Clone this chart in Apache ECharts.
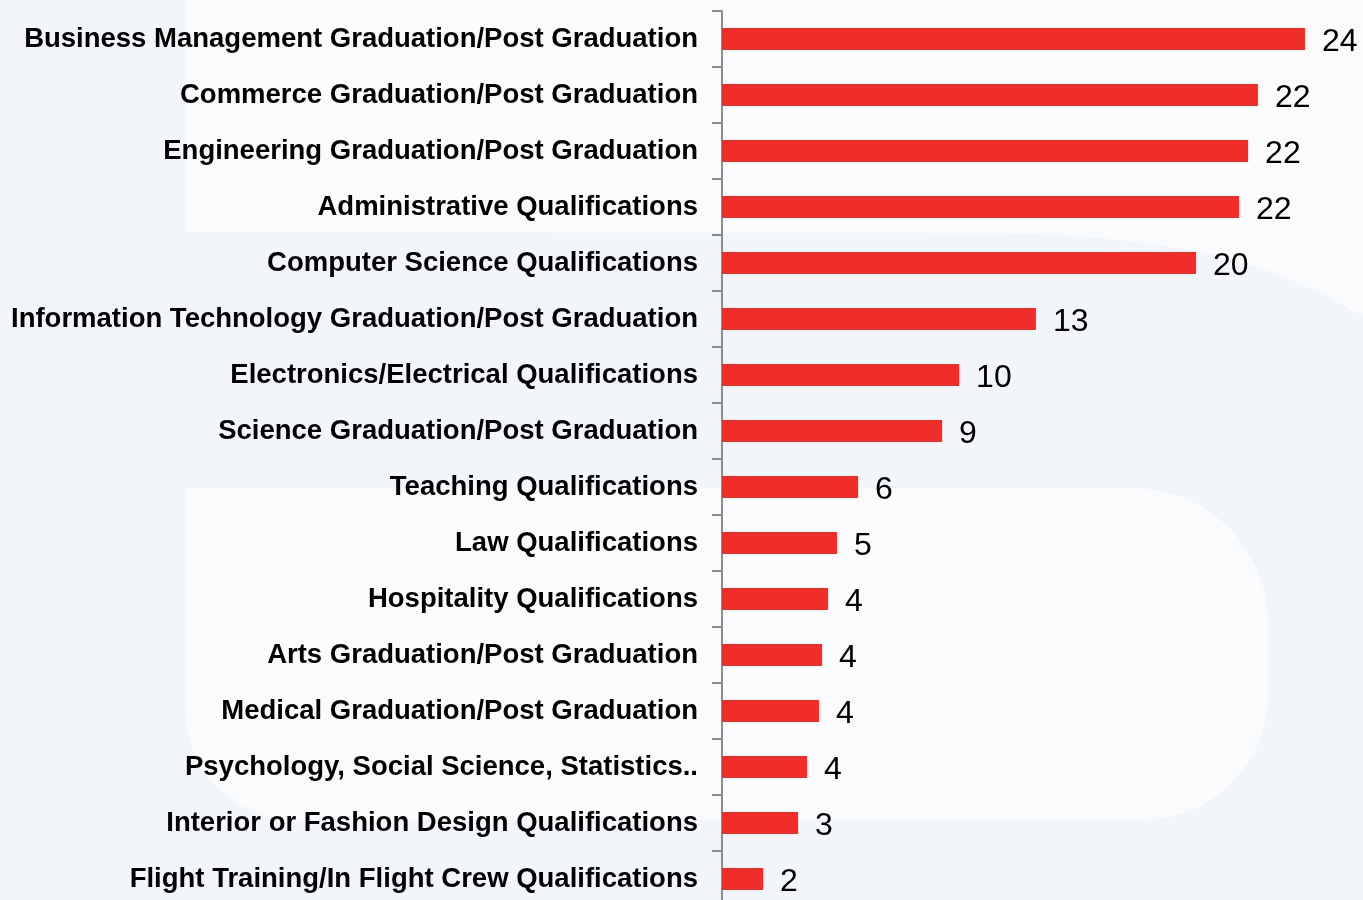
<!DOCTYPE html>
<html>
<head>
<meta charset="utf-8">
<script src="https://cdn.jsdelivr.net/npm/echarts@6/dist/echarts.min.js"></script>
<style>
  html, body { margin: 0; padding: 0; }
  #chart { width: 1363px; height: 900px; }
</style>
</head>
<body>
<div id="chart"></div>
<script>
// 分类（从上到下）
const categories = [
  'Business Management Graduation/Post Graduation',
  'Commerce Graduation/Post Graduation',
  'Engineering Graduation/Post Graduation',
  'Administrative Qualifications',
  'Computer Science Qualifications',
  'Information Technology Graduation/Post Graduation',
  'Electronics/Electrical Qualifications',
  'Science Graduation/Post Graduation',
  'Teaching Qualifications',
  'Law Qualifications',
  'Hospitality Qualifications',
  'Arts Graduation/Post Graduation',
  'Medical Graduation/Post Graduation',
  'Psychology, Social Science, Statistics..',
  'Interior or Fashion Design Qualifications',
  'Flight Training/In Flight Crew Qualifications'
];

// 条形长度（按图估计，标签显示取整）
const values = [24.29, 22.33, 21.92, 21.54, 19.75, 13.08, 9.88, 9.17, 5.67, 4.79, 4.42, 4.17, 4.04, 3.54, 3.17, 1.71];

const chart = echarts.init(document.getElementById('chart'));

chart.setOption({
  backgroundColor: '#F2F5FA',
  animation: false,
  // 背景浅色图形（logo 水印）
  graphic: [
    {
      type: 'polygon',
      z: -10,
      silent: true,
      shape: {
        points: [[185, 0], [1363, 0], [1363, 316], [1320, 293], [1280, 275], [1240, 262],
                 [1200, 252], [1150, 244], [1100, 238], [1050, 235], [1000, 233], [185, 232]]
      },
      style: { fill: '#FAFBFD' }
    },
    {
      type: 'rect',
      z: -10,
      silent: true,
      shape: { x: 185, y: 488, width: 1083, height: 332, r: [0, 135, 125, 110] },
      style: { fill: '#FAFBFD' }
    }
  ],
  grid: { left: 722, top: 11, width: 624, height: 896, containLabel: false, outerBoundsMode: 'none' },
  xAxis: {
    type: 'value',
    min: 0,
    max: 26,
    show: false
  },
  yAxis: {
    type: 'category',
    data: categories,
    inverse: true,
    axisLine: { show: true, lineStyle: { color: '#8C8C8C', width: 2 } },
    axisTick: { show: true, length: 10, lineStyle: { color: '#8C8C8C', width: 2 } },
    axisLabel: {
      margin: 24,
      color: '#000',
      fontFamily: 'Liberation Sans, Arial, sans-serif',
      fontWeight: 'bold',
      fontSize: 27.5,
      lineHeight: 28,
      padding: [6, 0, 0, 0]
    },
    splitLine: { show: false }
  },
  series: [{
    type: 'bar',
    data: values,
    barWidth: 22,
    itemStyle: { color: '#EF2E29' },
    label: {
      show: true,
      position: 'right',
      distance: 17,
      offset: [0, 3],
      color: '#000',
      fontFamily: 'Liberation Sans, Arial, sans-serif',
      fontSize: 32,
      formatter: p => Math.round(p.value)
    }
  }]
});
</script>
</body>
</html>
